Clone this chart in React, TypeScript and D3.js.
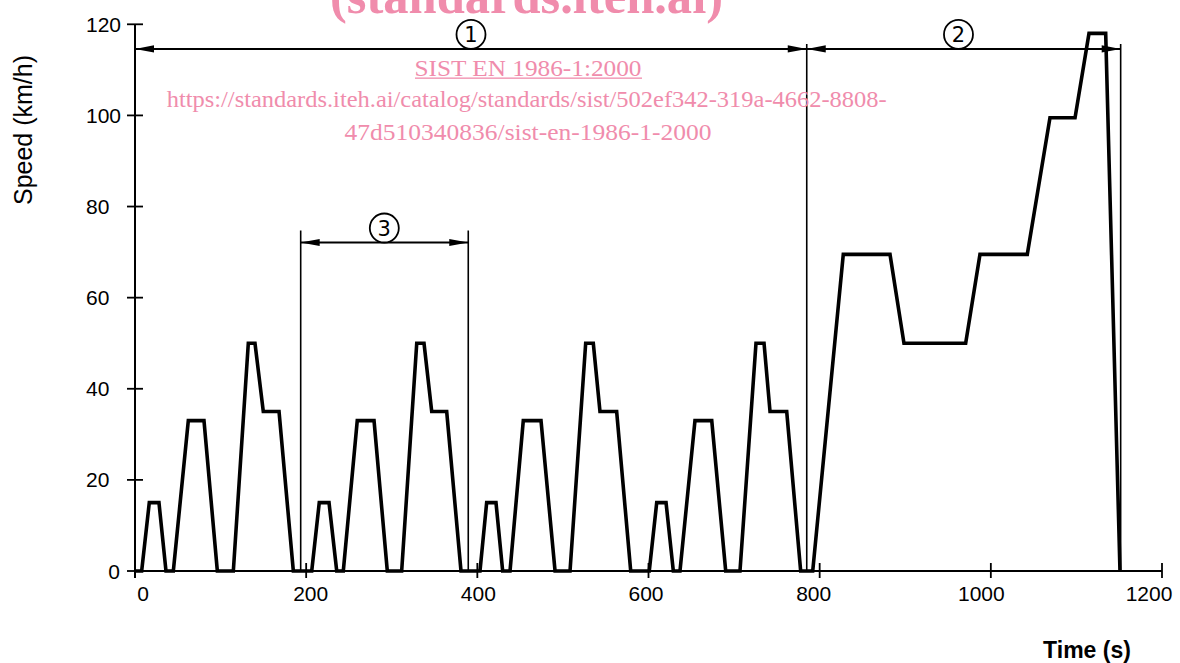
import { useMemo } from "react";
import * as d3 from "d3";

// Speed trace (ECE 15 x4 + EUDC)
const timeS = [
  0,
  7.8, 16.7, 28.0, 36.2, 44.8, 62.3, 80.6, 96.2, 114.9, 132.4, 140.2, 149.9, 168.3, 185.0,
  206.5, 215.3, 226.7, 235.7, 243.4, 259.7, 279.3, 294.8, 311.6, 329.2, 337.7, 346.7, 364.2, 380.9,
  403.1, 410.9, 421.8, 429.6, 438.2, 453.7, 474.4, 490.8, 508.3, 526.6, 535.5, 543.3, 562.8, 579.2,
  600.9, 609.6, 620.5, 629.0, 636.8, 654.3, 673.9, 690.2, 706.9, 725.6, 735.0, 742.0, 761.5, 777.8,
  791.9, 827.6, 882.2, 898.5, 970.6, 987.3, 1042.6, 1069.1, 1098.4, 1114.7, 1134.2, 1150.9,
];
const speedKmh = [
  0,
  0, 15, 15, 0, 0, 33, 33, 0, 0, 50, 50, 35, 35, 0,
  0, 15, 15, 0, 0, 33, 33, 0, 0, 50, 50, 35, 35, 0,
  0, 15, 15, 0, 0, 33, 33, 0, 0, 50, 50, 35, 35, 0,
  0, 15, 15, 0, 0, 33, 33, 0, 0, 50, 50, 35, 35, 0,
  0, 69.5, 69.5, 50, 50, 69.5, 69.5, 99.5, 99.5, 118, 118, 0,
];

const xTicks = [0, 200, 400, 600, 800, 1000, 1200];
const yTicks = [0, 20, 40, 60, 80, 100, 120];

// dimension marks
const phaseBounds = [0, 784.9, 1151.7];
const phaseLevel = 114.6;
const phaseLabels = ["1", "2"];
const phaseLabelTime = [392.6, 962.2];
const cycleBounds = [193.6, 389.4];
const cycleLevel = 72.1;
const cycleLabel = "3";
const cycleLabelTime = 291.3;

const PINK = "#f08cac";

export default function App() {
  const W = 1180;
  const H = 663;
  const x = useMemo(() => d3.scaleLinear().domain([0, 1200]).range([135, 1162]), []);
  const y = useMemo(() => d3.scaleLinear().domain([0, 120]).range([571, 24.3]), []);
  const xLab = d3.scaleLinear().domain([0, 1200]).range([143, 1149]);

  const pts: [number, number][] = timeS.map((t, i) => [t, speedKmh[i]]);
  const line = d3
    .line<[number, number]>()
    .x((d) => x(d[0]))
    .y((d) => y(d[1]));

  const arrow = (tip: number, yy: number, dir: number, key: string) => {
    const L = 19;
    const hw = 3.6;
    return (
      <polygon
        key={key}
        points={`${tip},${yy} ${tip - dir * L},${yy - hw} ${tip - dir * L},${yy + hw}`}
        fill="#000"
      />
    );
  };

  const dim = (a: number, b: number, lvl: number, key: string) => {
    const yy = y(lvl);
    return (
      <g key={key}>
        <line x1={x(a)} x2={x(b)} y1={yy} y2={yy} stroke="#000" strokeWidth={2} />
        {arrow(x(a), yy, -1, key + "l")}
        {arrow(x(b), yy, 1, key + "r")}
      </g>
    );
  };

  const circleLabel = (t: number, lvl: number, txt: string, key: string) => {
    const cx = x(t);
    const cy = y(lvl) - 14.5;
    return (
      <g key={key}>
        <circle cx={cx} cy={cy} r={14.5} fill="#fff" stroke="#000" strokeWidth={1.8} />
        <text
          x={cx}
          y={cy}
          dy="0.36em"
          textAnchor="middle"
          fontFamily="DejaVu Sans, sans-serif"
          fontSize={21}
        >
          {txt}
        </text>
      </g>
    );
  };

  return (
    <svg
      width={W}
      height={H}
      style={{ position: "absolute", left: 0, top: 0, background: "#fff" }}
    >
      <rect width={W} height={H} fill="#fff" />

      {/* axes */}
      <line x1={x(0)} x2={x(0)} y1={y(120)} y2={578} stroke="#000" strokeWidth={2} />
      <line x1={x(0)} x2={x(1200)} y1={y(0)} y2={y(0)} stroke="#000" strokeWidth={2} />
      {yTicks.map((v) => (
        <g key={"y" + v}>
          <line x1={x(0) - 8} x2={x(0) + 8} y1={y(v)} y2={y(v)} stroke="#000" strokeWidth={1.8} />
          <text
            x={v === 0 ? 120 : 86}
            y={y(v)}
            dy="0.36em"
            textAnchor={v === 0 ? "end" : "start"}
            fontFamily="Liberation Sans, Arial, sans-serif"
            fontSize={21}
          >
            {v}
          </text>
        </g>
      ))}
      {xTicks.map((v) => (
        <g key={"x" + v}>
          <line x1={x(v)} x2={x(v)} y1={y(0) - 8} y2={y(0) + 7} stroke="#000" strokeWidth={1.8} />
          <text
            x={xLab(v)}
            y={601}
            textAnchor="middle"
            fontFamily="Liberation Sans, Arial, sans-serif"
            fontSize={21}
          >
            {v}
          </text>
        </g>
      ))}

      <text
        transform={`translate(32,130) rotate(-90)`}
        textAnchor="middle"
        fontFamily="Liberation Sans, Arial, sans-serif"
        fontSize={25}
      >
        Speed (km/h)
      </text>
      <text
        x={1087}
        y={658}
        textAnchor="middle"
        fontFamily="Liberation Sans, Arial, sans-serif"
        fontWeight="bold"
        fontSize={23}
      >
        Time (s)
      </text>

      {/* extension lines */}
      {phaseBounds.slice(1).map((t) => (
        <line key={"pb" + t} x1={x(t)} x2={x(t)} y1={y(phaseLevel) - 5} y2={y(0)} stroke="#000" strokeWidth={1.6} />
      ))}
      {cycleBounds.map((t) => (
        <line key={"cb" + t} x1={x(t)} x2={x(t)} y1={y(cycleLevel) - 12} y2={y(0)} stroke="#000" strokeWidth={1.6} />
      ))}

      {/* dimension arrows */}
      {dim(phaseBounds[0], phaseBounds[1], phaseLevel, "d1")}
      {dim(phaseBounds[1], phaseBounds[2], phaseLevel, "d2")}
      {dim(cycleBounds[0], cycleBounds[1], cycleLevel, "d3")}
      {phaseLabels.map((s, i) => circleLabel(phaseLabelTime[i], phaseLevel, s, "c" + i))}
      {circleLabel(cycleLabelTime, cycleLevel, cycleLabel, "c3")}

      {/* speed trace */}
      <path
        d={line(pts) || ""}
        fill="none"
        stroke="#000"
        strokeWidth={3.6}
        strokeLinejoin="miter"
        strokeMiterlimit={3}
      />

      {/* watermark */}
      <g fill={PINK} fontFamily="Liberation Serif, Times New Roman, serif">
        <text x={526.5} y={13} textAnchor="middle" fontWeight="bold" fontSize={50} textLength={393} lengthAdjust="spacingAndGlyphs">
          (standards.iteh.ai)
        </text>
        <text x={528} y={76} textAnchor="middle" fontSize={24} textLength={227} lengthAdjust="spacingAndGlyphs">
          SIST EN 1986-1:2000
        </text>
        <rect x={415} y={77.5} width={227} height={1.3} />
        <text x={526.7} y={106.5} textAnchor="middle" fontSize={24} textLength={720} lengthAdjust="spacingAndGlyphs">
          https://standards.iteh.ai/catalog/standards/sist/502ef342-319a-4662-8808-
        </text>
        <text x={528} y={140} textAnchor="middle" fontSize={24} textLength={367} lengthAdjust="spacingAndGlyphs">
          47d510340836/sist-en-1986-1-2000
        </text>
      </g>
    </svg>
  );
}
